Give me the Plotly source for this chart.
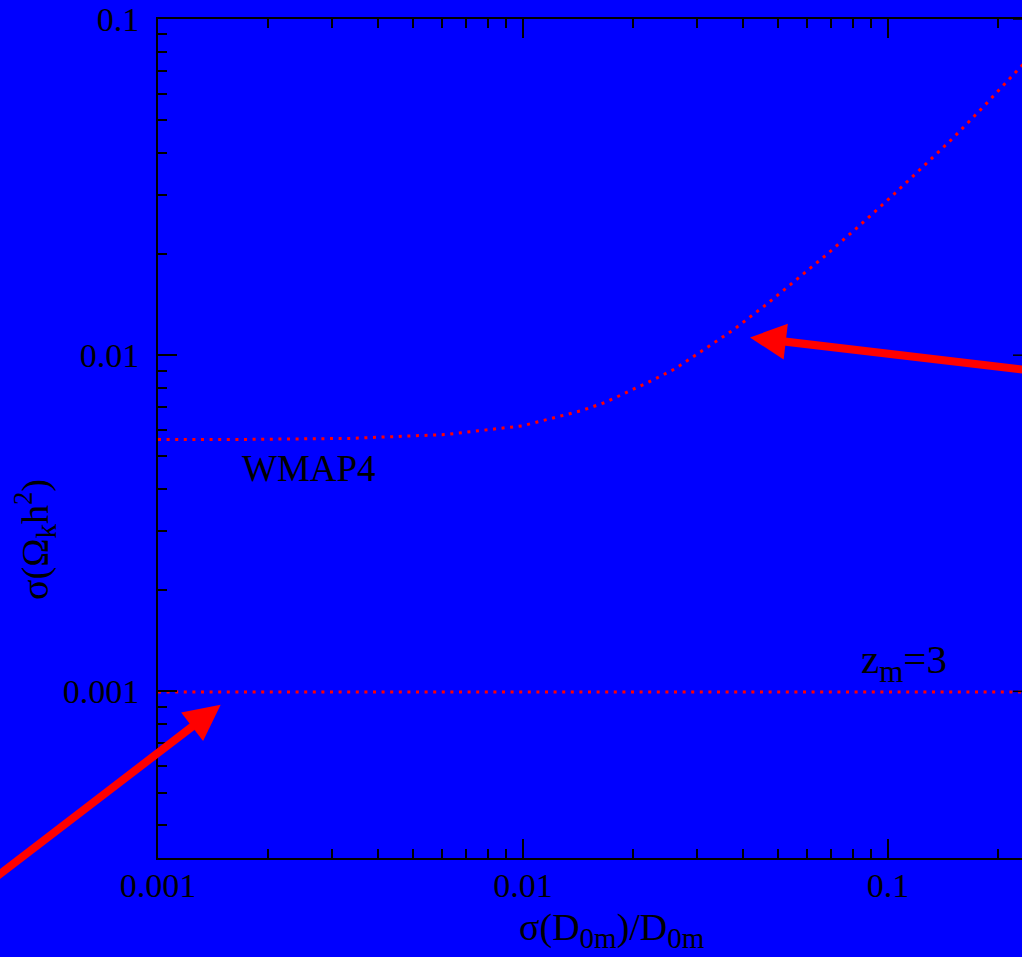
import numpy as np
import plotly.graph_objects as go

# Forecast curve labelled WMAP4: sigma(Omega_k h^2) against sigma(D_0m)/D_0m
wmap4_x = [0.001, 0.001787, 0.003357, 0.004603, 0.006113, 0.00996, 0.01166,
           0.01439, 0.01678, 0.01943, 0.02256, 0.02608, 0.03119, 0.03761,
           0.04653, 0.05502, 0.06794, 0.08327, 0.1019, 0.1242, 0.1514,
           0.1829, 0.2285, 0.25]
wmap4_y = [0.005617, 0.005617, 0.005656, 0.005734, 0.005805, 0.006163,
           0.006438, 0.006829, 0.007232, 0.007777, 0.008409, 0.009107,
           0.01039, 0.01187, 0.01418, 0.01644, 0.01992, 0.02422, 0.02954,
           0.03620, 0.04444, 0.05495, 0.07127, 0.0790]

# z_m = 3 level
zm3_x = [0.001, 0.25]
zm3_y = [0.000995, 0.000995]

# Tick positions and labels
major_vals = [0.001, 0.01, 0.1]
major_text = ["0.001", "0.01", "0.1"]
x_minor = [2e-3, 3e-3, 4e-3, 5e-3, 6e-3, 7e-3, 8e-3, 9e-3,
           2e-2, 3e-2, 4e-2, 5e-2, 6e-2, 7e-2, 8e-2, 9e-2, 0.2]
y_minor = [4e-4, 5e-4, 6e-4, 7e-4, 8e-4, 9e-4,
           2e-3, 3e-3, 4e-3, 5e-3, 6e-3, 7e-3, 8e-3, 9e-3,
           2e-2, 3e-2, 4e-2, 5e-2, 6e-2, 7e-2, 8e-2, 9e-2]

x_range = [np.log10(0.001), np.log10(0.2329)]
y_range = [-3.4957, -1.0]

# Arrows: head and tail points in data units (tails lie beyond the page)
arrow_tips = [(0.04187, 0.01129), (0.001485, 0.000912)]
arrow_tails = [(0.2692, 0.008897), (0.0002868, 0.0002320)]

BLUE = "#0000ff"
RED = "#ff0000"
FONT = "Liberation Serif"

W, H = 1022, 957
ML, MR, MT, MB = 158, 0, 18.5, 98.7

fig = go.Figure()
dots = "3px,5.6px"
fig.add_trace(go.Scatter(x=wmap4_x, y=wmap4_y, mode="lines",
                         line=dict(color=RED, width=3, dash=dots),
                         showlegend=False, hoverinfo="skip"))
fig.add_trace(go.Scatter(x=zm3_x, y=zm3_y, mode="lines",
                         line=dict(color=RED, width=3, dash=dots),
                         showlegend=False, hoverinfo="skip"))

axis_common = dict(
    type="log", showgrid=False, zeroline=False,
    showline=True, linecolor="black", linewidth=2,
    ticks="inside", ticklen=19, tickwidth=1.5, tickcolor="black",
    tickvals=major_vals, ticktext=major_text,
    tickfont=dict(family=FONT, size=34, color="black"),
)

fig.update_xaxes(range=x_range, mirror="allticks", ticklabelstandoff=-4,
                 minor=dict(tickvals=x_minor, ticks="inside", ticklen=9,
                            tickwidth=1.5, tickcolor="black", showgrid=False),
                 **axis_common)
fig.update_yaxes(range=y_range, mirror=False, ticklabelstandoff=10,
                 minor=dict(tickvals=y_minor, ticks="inside", ticklen=9,
                            tickwidth=1.5, tickcolor="black", showgrid=False),
                 **axis_common)

plot_w = W - ML - MR
plot_h = H - MT - MB


def ypaper(v):
    return (np.log10(v) - y_range[0]) / (y_range[1] - y_range[0])


def px_to_paper(px, py):
    return (px - ML) / plot_w, (MT + plot_h - py) / plot_h


# Tick stubs along the right edge
shapes = []
for v in major_vals:
    shapes.append(dict(type="line", xref="paper", yref="paper",
                       x0=1 - 9 / plot_w, x1=1, y0=ypaper(v), y1=ypaper(v),
                       line=dict(color="black", width=1.5)))

annotations = []
for (tx, ty), (sx, sy) in zip(arrow_tips, arrow_tails):
    annotations.append(dict(x=np.log10(tx), y=np.log10(ty), xref="x", yref="y",
                            ax=np.log10(sx), ay=np.log10(sy), axref="x", ayref="y",
                            text="", showarrow=True, arrowhead=2,
                            arrowsize=0.9, arrowwidth=8, arrowcolor=RED))

annotations.append(dict(x=np.log10(0.002593), y=np.log10(0.0046), xref="x", yref="y",
                        text="WMAP4", showarrow=False,
                        xanchor="center", yanchor="middle",
                        font=dict(family=FONT, size=37, color="black")))
annotations.append(dict(x=np.log10(0.0835), y=np.log10(0.000995), xref="x", yref="y",
                        xanchor="left", yanchor="bottom", yshift=1,
                        text='z<sub><span style="font-size:31px">m</span></sub>=3',
                        showarrow=False,
                        font=dict(family=FONT, size=41, color="black")))

sub = '<sub><span style="font-size:29px">{}</span></sub>'
tx, ty = px_to_paper(612, 930)
annotations.append(dict(x=tx, y=ty, xref="paper", yref="paper", showarrow=False,
                        xanchor="center", yanchor="middle",
                        text="σ(D" + sub.format("0m") + ")/D" + sub.format("0m"),
                        font=dict(family=FONT, size=38, color="black")))
tx, ty = px_to_paper(35, 540)
annotations.append(dict(x=tx, y=ty, xref="paper", yref="paper", showarrow=False,
                        xanchor="center", yanchor="middle", textangle=-90,
                        text="σ(Ω" + sub.format("k") + "h<sup>2</sup>)",
                        font=dict(family=FONT, size=38, color="black")))

fig.update_layout(
    width=W, height=H, autosize=False,
    margin=dict(l=ML, r=MR, t=MT, b=MB, pad=0),
    paper_bgcolor=BLUE, plot_bgcolor=BLUE,
    shapes=shapes, annotations=annotations, showlegend=False,
)

fig.write_html("out.html")
